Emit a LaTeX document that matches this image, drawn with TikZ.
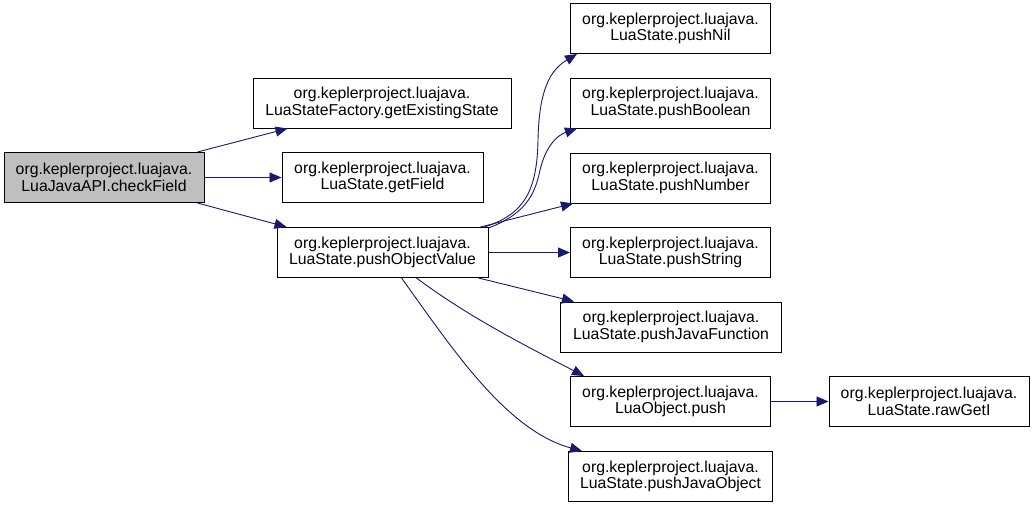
\documentclass[tikz,border=0pt]{standalone}
\usepackage{fontspec}
\setmainfont{Liberation Sans}
\usetikzlibrary{arrows.meta,calc}
\definecolor{edgeblue}{HTML}{191970}
\definecolor{boxgray}{HTML}{BFBFBF}
\begin{document}
\begin{tikzpicture}[x=1pt,y=-1pt,
  fn/.style={draw=black,line width=1pt,fill=white,inner sep=0pt,align=center,
    font=\fontsize{15.8}{16.8}\selectfont},
  call/.style={draw=edgeblue,line width=0.9pt,-{Triangle[length=12pt,width=10pt]}}]
\useasboundingbox (0,0) rectangle (1035,507);
\fill[white] (0,0) rectangle (1035,507);
\node[fn,fill=boxgray,minimum width=200pt,minimum height=50pt] (A) at (104,177.5) {org.keplerproject.luajava.\\LuaJavaAPI.checkField};
\node[fn,minimum width=258pt,minimum height=50pt] (B) at (382,103) {org.keplerproject.luajava.\\LuaStateFactory.getExistingState};
\node[fn,minimum width=201pt,minimum height=50pt] (C) at (382.5,177.5) {org.keplerproject.luajava.\\LuaState.getField};
\node[fn,minimum width=211pt,minimum height=50pt] (D) at (382.5,252.5) {org.keplerproject.luajava.\\LuaState.pushObjectValue};
\node[fn,minimum width=200pt,minimum height=50pt] (E1) at (670.5,28.5) {org.keplerproject.luajava.\\LuaState.pushNil};
\node[fn,minimum width=200pt,minimum height=50pt] (E2) at (670.5,103) {org.keplerproject.luajava.\\LuaState.pushBoolean};
\node[fn,minimum width=200pt,minimum height=50pt] (E3) at (670.5,178) {org.keplerproject.luajava.\\LuaState.pushNumber};
\node[fn,minimum width=200pt,minimum height=50pt] (E4) at (670.5,252.5) {org.keplerproject.luajava.\\LuaState.pushString};
\node[fn,minimum width=221pt,minimum height=50pt] (E5) at (671,327) {org.keplerproject.luajava.\\LuaState.pushJavaFunction};
\node[fn,minimum width=200pt,minimum height=50pt] (E6) at (670.5,401.5) {org.keplerproject.luajava.\\LuaObject.push};
\node[fn,minimum width=204pt,minimum height=50pt] (E7) at (670.5,476.5) {org.keplerproject.luajava.\\LuaState.pushJavaObject};
\node[fn,minimum width=200pt,minimum height=50pt] (F) at (929,401.5) {org.keplerproject.luajava.\\LuaState.rawGetI};
% edges from checkField
\draw[call] ($(A.north east)+(-7,0)$) -- ($(B.south west)+(35,0)$);
\draw[call] (A.east) -- (C.west);
\draw[call] ($(A.south east)+(-7,0)$) -- ($(D.north west)+(10,0)$);
% edges from pushObjectValue
\draw[call] ($(D.north east)+(-4,0)$) .. controls (525,214) and (537,190) .. (538,140)
  .. controls (539,90) and (550,70) .. ($(E1.south west)+(7,0)$);
\draw[call] ($(D.north east)+(0,1)$) .. controls (525,214) and (535,195) .. (540,170)
  .. controls (546,145) and (558,135) .. ($(E2.south west)+(7,0)$);
\draw[call] ($(D.north east)+(-8,0)$) -- ($(E3.south west)+(3,0)$);
\draw[call] (D.east) -- (E4.west);
\draw[call] ($(D.south east)+(-10,0)$) -- ($(E5.north west)+(14,0)$);
\draw[call] ($(D.south west)+(140,0)$) .. controls (470,318) and (530,348) .. ($(E6.north west)+(14,0)$);
\draw[call] ($(D.south west)+(125,0)$) .. controls (450,345) and (505,430) .. ($(E7.north west)+(14,0)$);
% edge from LuaObject.push
\draw[call] (E6.east) -- (F.west);
\end{tikzpicture}
\end{document}
